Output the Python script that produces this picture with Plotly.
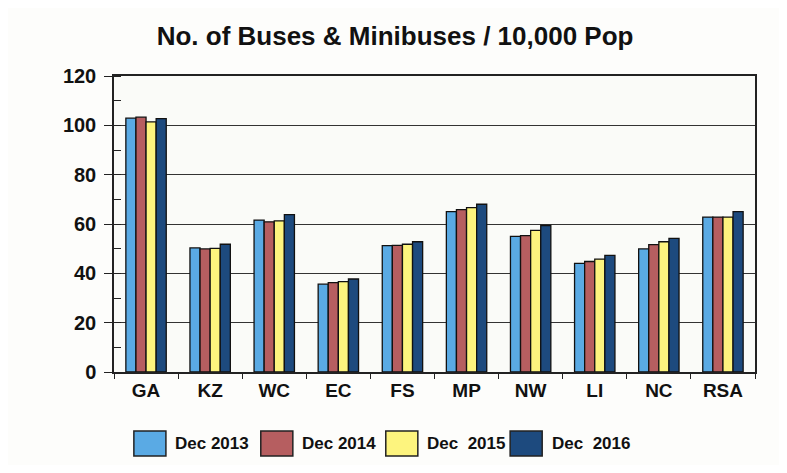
import plotly.graph_objects as go

categories = ["GA", "KZ", "WC", "EC", "FS", "MP", "NW", "LI", "NC", "RSA"]
series_names = ["Dec 2013", "Dec 2014", "Dec  2015", "Dec  2016"]
dec2013 = [102.9, 50.3, 61.6, 35.6, 51.2, 65.0, 55.0, 44.0, 49.9, 62.8]
dec2014 = [103.3, 49.9, 60.9, 36.2, 51.3, 65.8, 55.3, 44.8, 51.6, 62.8]
dec2015 = [101.4, 50.1, 61.3, 36.6, 51.8, 66.6, 57.4, 45.8, 52.8, 62.8]
dec2016 = [102.7, 51.8, 63.8, 37.7, 52.8, 68.0, 59.4, 47.3, 54.2, 65.0]
y_ticks = [0, 20, 40, 60, 80, 100, 120]

values = [dec2013, dec2014, dec2015, dec2016]
colors = ["#5aaae4", "#b65e60", "#fdf47e", "#1d4a7e"]
FONT = "Arial, Liberation Sans, sans-serif"

fig = go.Figure()
for name, vals, col in zip(series_names, values, colors):
    fig.add_trace(go.Bar(
        x=categories, y=vals, name=name,
        marker=dict(color=col, line=dict(color="#111111", width=1.3)),
        showlegend=False,
    ))

# custom legend (large boxes like the reference)
box_x0 = [0.031, 0.229, 0.424, 0.618]
text_x = [0.092, 0.290, 0.485, 0.680]
for i, (name, col) in enumerate(zip(series_names, colors)):
    fig.add_shape(type="rect", xref="paper", yref="paper",
                  x0=box_x0[i], x1=box_x0[i] + 0.05, y0=-0.284, y1=-0.199,
                  fillcolor=col, line=dict(color="#222222", width=1.5))
    fig.add_annotation(xref="paper", yref="paper", x=text_x[i], y=-0.24,
                       text="<b>" + name.replace("  ", "&nbsp;&nbsp;") + "</b>",
                       showarrow=False, xanchor="left", yanchor="middle",
                       font=dict(family=FONT, size=17, color="#111111"))

fig.update_layout(
    width=771, height=457,
    margin=dict(l=106, r=24, t=68, b=93),
    paper_bgcolor="#fdfdfb",
    plot_bgcolor="#fafbf8",
    barmode="group",
    bargap=0.37,
    bargroupgap=0,
    title=dict(text="<b>No. of Buses & Minibuses / 10,000 Pop</b>",
               x=0.502, xanchor="center", y=0.94, yanchor="middle",
               font=dict(family=FONT, size=26, color="#111111")),
    font=dict(family=FONT, color="#111111"),
)
fig.update_xaxes(
    showline=True, linecolor="#222222", linewidth=1.5, mirror=True,
    ticks="outside", tickson="boundaries", ticklen=5, tickcolor="#222222",
    tickfont=dict(family=FONT, size=19, color="#111111"),
    tickprefix="<b>", ticksuffix="</b>",
    showgrid=False,
)
fig.update_yaxes(
    range=[0, 120], tickvals=y_ticks,
    ticktext=["<b>%d</b>" % v for v in y_ticks],
    showline=True, linecolor="#222222", linewidth=1.5, mirror=True,
    ticks="outside", ticklen=8, tickcolor="#222222",
    ticklabelstandoff=4,
    minor=dict(dtick=10, ticks="inside", ticklen=7, tickcolor="#222222", showgrid=False),
    tickfont=dict(family=FONT, size=20, color="#111111"),
    showgrid=True, gridcolor="#333333", gridwidth=1,
    zeroline=False,
)

fig.write_html("out.html")
